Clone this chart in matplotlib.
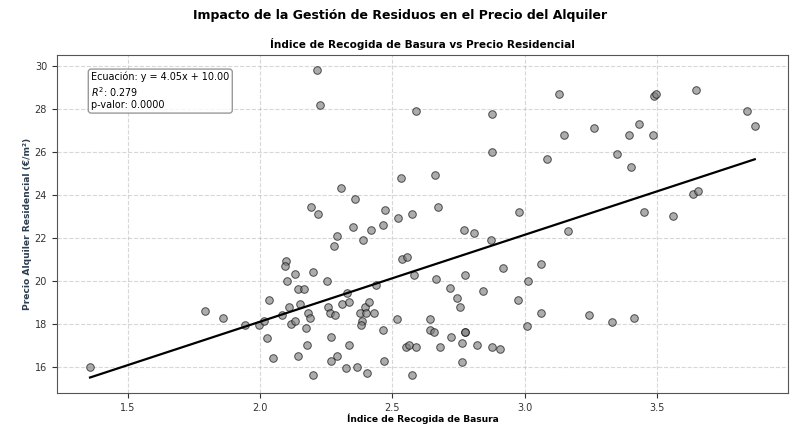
import matplotlib
matplotlib.use("Agg")
import matplotlib.pyplot as plt
import numpy as np

indice = [1.358, 1.793, 1.860, 1.944, 1.996, 2.014, 2.035, 2.028, 2.049, 2.082,
          2.098, 2.094, 2.103, 2.132, 2.145, 2.109, 2.119, 2.132, 2.142, 2.152,
          2.214, 2.226, 2.589, 2.877, 2.877, 2.532, 2.662, 2.306, 2.358, 2.192,
          2.221, 2.474, 2.466, 2.521, 2.575, 2.672, 2.351, 2.419, 2.292, 2.389,
          2.279, 2.769, 2.810, 2.873, 2.978, 2.535, 2.555, 2.580, 2.666, 2.775,
          2.917, 3.012, 2.200, 2.254, 2.167, 2.180, 2.188, 2.173, 2.176, 2.200,
          2.327, 2.309, 2.337, 2.437, 2.256, 2.265, 2.284, 2.395, 2.410, 2.376,
          2.400, 2.429, 2.384, 2.381, 2.464, 2.267, 2.335, 2.290, 2.269, 2.326,
          2.366, 2.406, 2.469, 2.517, 2.575, 2.552, 2.564, 2.591, 2.642, 2.642,
          2.657, 2.680, 2.717, 2.744, 2.755, 2.720, 2.773, 2.775, 2.764, 2.763,
          2.821, 2.842, 2.875, 2.906, 2.975, 3.008, 3.130, 3.488, 3.497, 3.646,
          3.839, 3.869, 3.148, 3.261, 3.393, 3.430, 3.486, 3.086, 3.347, 3.401,
          3.637, 3.655, 3.449, 3.559, 3.165, 3.062, 3.060, 3.244, 3.328, 3.411]
precio = [16.00, 18.62, 18.29, 17.94, 17.94, 18.11, 19.12, 17.32, 16.40, 18.42,
          20.92, 20.71, 20.01, 20.31, 19.61, 18.79, 18.00, 18.11, 16.51, 18.92,
          29.81, 28.22, 27.92, 27.80, 26.00, 24.80, 24.93, 24.33, 23.83, 23.43,
          23.13, 23.30, 22.60, 22.91, 23.13, 23.43, 22.53, 22.39, 22.11, 21.91,
          21.61, 22.39, 22.22, 21.89, 23.21, 21.01, 21.12, 20.29, 20.09, 20.29,
          20.59, 20.01, 20.42, 20.01, 19.61, 18.50, 18.29, 17.80, 17.02, 15.60,
          19.43, 18.92, 19.01, 19.80, 18.79, 18.50, 18.42, 18.79, 19.01, 18.50,
          18.50, 18.50, 18.11, 17.94, 17.72, 17.40, 17.02, 16.51, 16.29, 15.92,
          16.00, 15.70, 16.29, 18.22, 15.60, 16.90, 17.02, 16.90, 18.22, 17.72,
          17.60, 16.90, 19.69, 19.19, 18.79, 17.40, 17.60, 17.62, 17.10, 16.20,
          17.02, 19.52, 16.90, 16.82, 19.12, 17.92, 28.71, 28.62, 28.71, 28.91,
          27.92, 27.22, 26.82, 27.12, 26.82, 27.32, 26.82, 25.70, 25.92, 25.30,
          24.03, 24.20, 23.21, 23.01, 22.31, 20.81, 18.50, 18.42, 18.09, 18.29]

pendiente = 4.05
intercepto = 10.00
r2 = 0.279
p_valor = 0.0

fig = plt.figure(figsize=(8, 4.37), dpi=100)
ax = fig.add_axes([0.071, 0.101, 0.914, 0.773])

ax.scatter(indice, precio, s=30, color='gray', alpha=0.65, edgecolors='black', linewidths=0.7, zorder=3)
xs = np.array([min(indice), max(indice)])
ax.plot(xs, pendiente * xs + intercepto, color='black', linewidth=1.6, zorder=4)

ax.grid(True, linestyle='--', alpha=0.5, zorder=0)
ax.set_axisbelow(True)
for s in ax.spines.values():
    s.set_color('#555555')

ax.tick_params(labelsize=7, colors='#333333')
ax.set_xticks([1.5, 2.0, 2.5, 3.0, 3.5])
ax.set_yticks([16, 18, 20, 22, 24, 26, 28, 30])
ax.set_xlabel('Índice de Recogida de Basura', fontsize=6.6, fontweight='bold', labelpad=0.5)
ax.set_ylabel('Precio Alquiler Residencial (€/m²)', fontsize=6.6, fontweight='bold', color='#2c3e50', labelpad=1.5)
ax.set_title('Índice de Recogida de Basura vs Precio Residencial', fontsize=7.6, fontweight='bold', pad=5)
fig.suptitle('Impacto de la Gestión de Residuos en el Precio del Alquiler', fontsize=9, fontweight='bold', y=0.98)

txt = f'Ecuación: y = {pendiente:.2f}x + {intercepto:.2f}\n$R^2$: {r2:.3f}\np-valor: {p_valor:.4f}'
ax.text(0.047, 0.95, txt, transform=ax.transAxes, fontsize=6.9, va='top',
        bbox=dict(boxstyle='round', facecolor='white', edgecolor='gray', alpha=0.8))

fig.savefig('out.png', dpi=100)
